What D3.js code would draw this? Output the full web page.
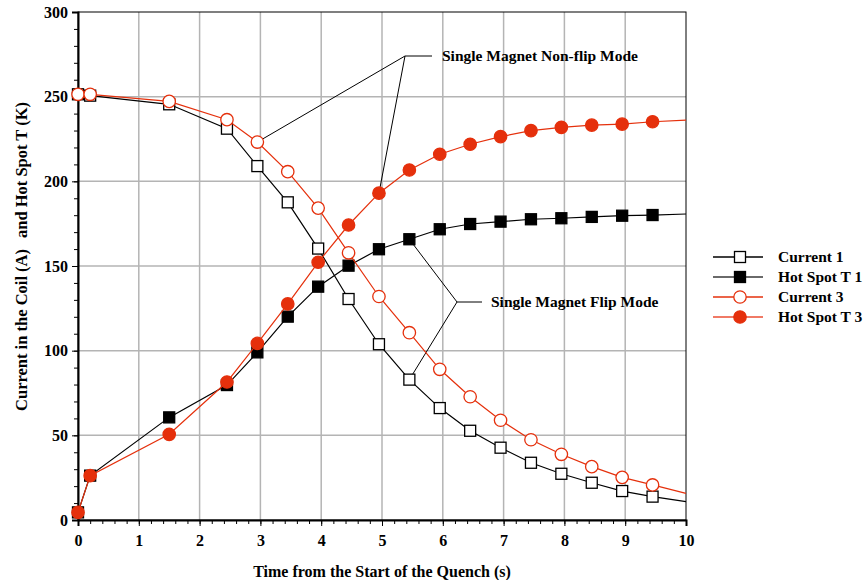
<!DOCTYPE html>
<html>
<head>
<meta charset="utf-8">
<script src="https://cdn.jsdelivr.net/npm/d3@7"></script>
<style>
  body { margin: 0; background: #fff; }
  text { font-family: "Liberation Serif", "Times New Roman", serif; font-weight: bold; }
</style>
</head>
<body>
<svg id="chart" width="867" height="580"></svg>
<script>
// data
const times = [0, 0.2, 1.5, 2.45, 2.95, 3.45, 3.95, 4.45, 4.95, 5.45, 5.95, 6.45, 6.95, 7.45, 7.95, 8.45, 8.95, 9.45, 10];
const current1 = [251.4, 250.6, 245.5, 231.1, 209, 187.6, 160.3, 130.5, 103.8, 82.9, 66.1, 52.7, 42.7, 33.8, 27.3, 22, 17.1, 13.8, 10.8];
const hotSpot1 = [4.5, 26.2, 60.6, 79.7, 99, 120.1, 137.8, 150.2, 159.9, 165.8, 171.7, 174.8, 176.2, 177.6, 178.2, 179, 179.7, 180.1, 180.7];
const current3 = [251.4, 251.4, 247.2, 236.4, 223.2, 205.7, 184.2, 157.8, 132, 110.6, 89, 72.8, 58.9, 47.4, 38.8, 31.5, 25.2, 20.7, 15.7];
const hotSpot3 = [4.5, 26.2, 50.6, 81.5, 104.3, 127.6, 152.2, 174.2, 193, 206.7, 216, 221.9, 226.4, 229.9, 231.9, 233.2, 233.8, 235.2, 236.2];

const seriesNames = ["Current 1", "Hot Spot T 1", "Current 3", "Hot Spot T 3"];
const xTicks = [0, 1, 2, 3, 4, 5, 6, 7, 8, 9, 10];
const yTicks = [0, 50, 100, 150, 200, 250, 300];

const red = "#e5300c";
const series = [
  { name: seriesNames[0], values: current1, shape: "square", fill: "#fff", stroke: "#000", legendLine: "#000" },
  { name: seriesNames[1], values: hotSpot1, shape: "square", fill: "#000", stroke: "#000", legendLine: "#6a6a6a" },
  { name: seriesNames[2], values: current3, shape: "circle", fill: "#fff", stroke: red, legendLine: red },
  { name: seriesNames[3], values: hotSpot3, shape: "circle", fill: red, stroke: red, legendLine: "#f07a66" }
];

const svg = d3.select("#chart");
const plot = { left: 78, right: 686, top: 12, bottom: 520 };

const x = d3.scaleLinear().domain([0, 10]).range([plot.left, plot.right]);
const y = d3.scaleLinear().domain([0, 300]).range([plot.bottom, plot.top]);

// grid
const grid = svg.append("g").attr("stroke", "#b4b4b4").attr("stroke-width", 1.5);
grid.selectAll("line.gx").data(xTicks.slice(1, -1)).join("line")
  .attr("x1", d => x(d)).attr("x2", d => x(d)).attr("y1", plot.top).attr("y2", plot.bottom);
grid.selectAll("line.gy").data(yTicks.slice(1, -1)).join("line")
  .attr("x1", plot.left).attr("x2", plot.right).attr("y1", d => y(d)).attr("y2", d => y(d));

// frame
svg.append("rect").attr("x", plot.left).attr("y", plot.top)
  .attr("width", plot.right - plot.left).attr("height", plot.bottom - plot.top)
  .attr("fill", "none").attr("stroke", "#000").attr("stroke-width", 1);

// axes
const xAxis = svg.append("g").attr("transform", `translate(0,${plot.bottom})`)
  .call(d3.axisBottom(x).tickValues(xTicks).tickSize(6).tickPadding(6).tickFormat(d3.format("d")));
svg.append("g").attr("transform", `translate(0,${plot.bottom})`)
  .call(d3.axisBottom(x).ticks(50).tickSize(4).tickFormat(""))
  .call(g => g.select(".domain").remove());
const yAxis = svg.append("g").attr("transform", `translate(${plot.left},0)`)
  .call(d3.axisLeft(y).tickValues(yTicks).tickSize(6).tickPadding(4));
svg.append("g").attr("transform", `translate(${plot.left},0)`)
  .call(d3.axisLeft(y).ticks(30).tickSize(4).tickFormat(""))
  .call(g => g.select(".domain").remove());

[xAxis, yAxis].forEach(g => {
  g.select(".domain").attr("stroke-width", 2);
  g.selectAll("text").attr("font-size", 16).attr("fill", "#000")
    .attr("font-family", "Liberation Serif").attr("font-weight", "bold");
});
xAxis.selectAll("text").attr("dy", "0.85em");

// axis titles
svg.append("text").attr("x", 382).attr("y", 577).attr("text-anchor", "middle")
  .attr("font-size", 16).text("Time from the Start of the Quench (s)");
const yTitle = svg.append("g").attr("transform", "translate(27,0) rotate(-90)");
yTitle.append("text").attr("x", -249).attr("y", 0).attr("text-anchor", "end")
  .attr("font-size", 16.5).text("Current in the Coil (A)");
yTitle.append("text").attr("x", -238).attr("y", 0).attr("text-anchor", "start")
  .attr("font-size", 16.5).text("and Hot Spot T (K)");

// annotation lines (drawn under markers)
const ann = svg.append("g").attr("stroke", "#000").attr("stroke-width", 1).attr("fill", "none");
const nonFlip = [405, 56], flip = [457, 302];
ann.append("line").attr("x1", nonFlip[0]).attr("y1", nonFlip[1]).attr("x2", x(2.95)).attr("y2", y(current3[4]));
ann.append("line").attr("x1", nonFlip[0]).attr("y1", nonFlip[1]).attr("x2", x(4.95)).attr("y2", y(hotSpot3[8]));
ann.append("line").attr("x1", nonFlip[0]).attr("y1", nonFlip[1]).attr("x2", 432).attr("y2", nonFlip[1]);
ann.append("line").attr("x1", flip[0]).attr("y1", flip[1]).attr("x2", x(5.45)).attr("y2", y(hotSpot1[9]));
ann.append("line").attr("x1", flip[0]).attr("y1", flip[1]).attr("x2", x(5.45)).attr("y2", y(current1[9]));
ann.append("line").attr("x1", flip[0]).attr("y1", flip[1]).attr("x2", 482).attr("y2", flip[1]);

svg.append("text").attr("x", 442).attr("y", 61).attr("font-size", 15.5).text("Single Magnet Non-flip Mode");
svg.append("text").attr("x", 491).attr("y", 307).attr("font-size", 15.5).text("Single Magnet Flip Mode");

// series
const line = d3.line().x((d, i) => x(times[i])).y(d => y(d));

function drawMarker(g, s, cx, cy) {
  if (s.shape === "square") {
    g.append("rect").attr("x", cx - 5.5).attr("y", cy - 5.5).attr("width", 11).attr("height", 11)
      .attr("fill", s.fill).attr("stroke", s.stroke).attr("stroke-width", 1.3);
  } else {
    g.append("circle").attr("cx", cx).attr("cy", cy).attr("r", 6.2)
      .attr("fill", s.fill).attr("stroke", s.stroke).attr("stroke-width", 1.3);
  }
}

series.forEach(s => {
  const g = svg.append("g");
  g.append("path").datum(s.values).attr("d", line)
    .attr("fill", "none").attr("stroke", s.stroke).attr("stroke-width", 1.2);
  // no marker at the last point (t = 10)
  s.values.slice(0, -1).forEach((v, i) => drawMarker(g, s, x(times[i]), y(v)));
});

// legend
const legend = svg.append("g");
const rowsY = [257, 277, 297, 317];
series.forEach((s, i) => {
  const yy = rowsY[i];
  legend.append("line").attr("x1", 713).attr("x2", 763).attr("y1", yy).attr("y2", yy)
    .attr("stroke", s.legendLine).attr("stroke-width", i % 2 ? 2 : 1.3);
  drawMarker(legend, s, 740, yy);
  legend.append("text").attr("x", 778).attr("y", yy + 5).attr("font-size", 15.5).text(s.name);
});
</script>
</body>
</html>
